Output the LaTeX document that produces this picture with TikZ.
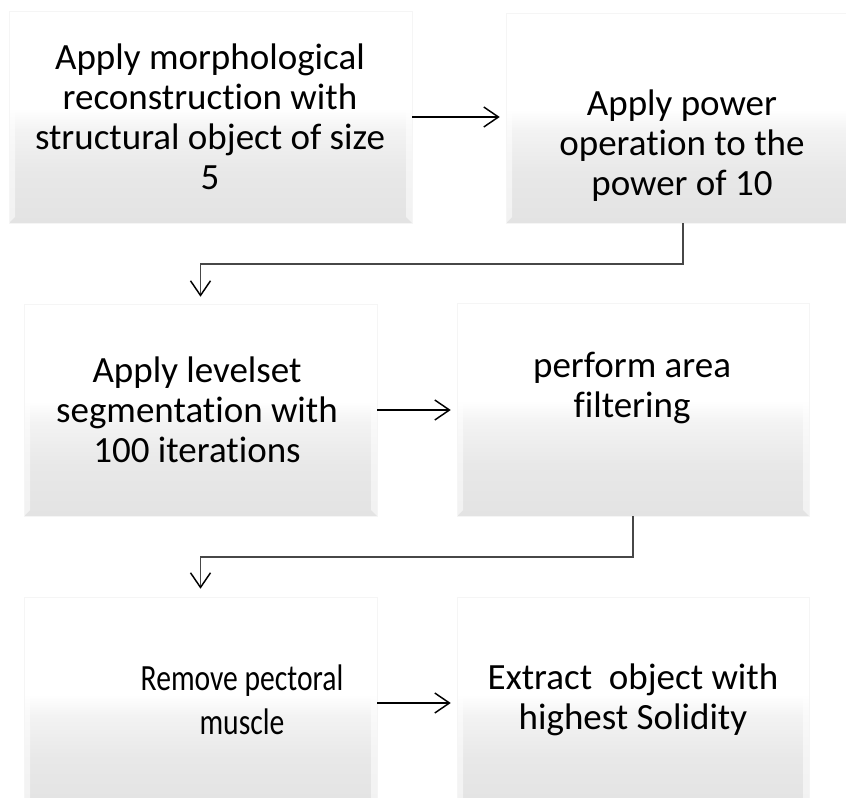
\documentclass[tikz,border=0pt]{standalone}
\usepackage{fontspec}
\setmainfont{Carlito}[Ligatures={NoCommon,NoContextual}]
\newfontfamily\narrowfont{Carlito}[Ligatures={NoCommon,NoContextual},FakeStretch=0.8]
\usetikzlibrary{arrows.meta,calc}
\definecolor{bxB}{HTML}{E3E3E3}
\definecolor{bxC}{HTML}{E8E8E8}
\definecolor{bxD}{HTML}{F3F3F3}
\pgfdeclareverticalshading{boxshade}{100bp}{color(0bp)=(bxB); color(25bp)=(bxB); color(37bp)=(bxC); color(47bp)=(bxD); color(52bp)=(white); color(100bp)=(white)}
\begin{document}
\begin{tikzpicture}[x=0.75pt,y=-0.75pt,
  boxnode/.style={rectangle, inner sep=0pt, shading=boxshade, draw=black!4, line width=0.4pt,
    path picture={
      \fill[white,opacity=.55] (path picture bounding box.north west) -- (path picture bounding box.south west) -- ++(6,-6) |- cycle;
      \fill[white,opacity=.55] (path picture bounding box.north east) -- (path picture bounding box.south east) -- ++(-6,-6) |- cycle;
    }},
  txt/.style={align=center, inner sep=0pt, font=\fontsize{27.75pt}{30pt}\selectfont},
  conn/.style={draw=black, line width=1.1pt, -{Straight Barb[length=11pt,width=15pt,line width=1.1pt]}},
  elbow/.style={draw=black!72, line width=1.3pt, -{Straight Barb[length=11pt,width=15pt,line width=1.1pt,color=black]}}
]
\useasboundingbox (0,0) rectangle (846,798);
\clip (0,0) rectangle (846,798);
% boxes
\node[boxnode, minimum width=302.25pt, minimum height=159pt] (b1) at (210.5,117) {};
\node[boxnode, minimum width=265.5pt, minimum height=157.5pt] (b2) at (683,118) {};
\node[boxnode, minimum width=264.75pt, minimum height=159pt] (b3) at (200.5,410) {};
\node[boxnode, minimum width=264pt, minimum height=159.75pt] (b4) at (633,409.5) {};
\node[boxnode, minimum width=264.75pt, minimum height=159pt] (b5) at (200.5,703) {};
\node[boxnode, minimum width=264pt, minimum height=159pt] (b6) at (633,703) {};
% texts
\node[txt] (t1) at (210,117) {Apply morphological\\reconstruction with\\structural object of size\\5};
\node[txt] (t2) at (682,146) {Apply power\\operation to the\\power of 10};
\node[txt] (t3) at (197,410) {Apply levelset\\segmentation with\\100 iterations};
\node[txt] (t4) at (632,388) {perform area\\filtering};
\node[txt, font=\narrowfont\fontsize{27.75pt}{33pt}\selectfont] (t5) at (242,700) {Remove pectoral\\muscle};
\node[txt] (t6) at (633,700) {Extract\ \ object with\\highest Solidity};
% connectors
\draw[conn, shorten >=4.5pt] (b1.east) -- (b1.east -| b2.west);
\draw[conn, shorten >=4.5pt] (b3.east) -- (b3.east -| b4.west);
\draw[conn, shorten >=4.5pt] (b5.east) -- (b5.east -| b6.west);
\draw[elbow, shorten >=5.25pt] (b2.south) -- ++(0,41) -| (b3.north);
\draw[elbow, shorten >=6pt] (b4.south) -- ++(0,41) -| (b5.north);
\end{tikzpicture}
\end{document}
